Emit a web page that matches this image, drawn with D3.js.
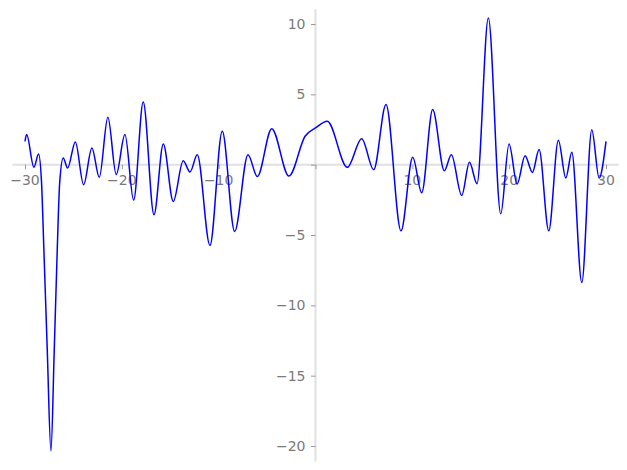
<!DOCTYPE html>
<html><head><meta charset="utf-8">
<script src="https://cdn.jsdelivr.net/npm/d3@7"></script>
<style>body{margin:0;background:#fff}svg{display:block}</style>
</head><body>
<svg id="c" width="627" height="470"></svg>
<script>
const xs = [-30,-29.83,-29.08,-28.6,-28.29,-28.05,-27.7,-27.32,-26.98,-26.67,-26.42,-26.05,-25.6,-24.8,-23.95,-23.09,-22.33,-21.44,-20.58,-19.68,-18.78,-17.79,-16.68,-15.72,-14.69,-13.66,-12.96,-12.21,-10.9,-9.63,-8.35,-6.97,-6.01,-4.52,-2.74,-1.08,0,1.22,3.29,4.77,6.01,7.28,8.83,10.04,10.97,12.1,13.3,14.03,15.1,15.9,16.68,17.85,19.13,19.99,20.82,21.64,22.4,23.09,24.09,25.08,25.85,26.47,27.5,28.53,29.29,30];
const ys = [1.66,2.14,-0.19,0.76,-1.3,-6.05,-13.2,-20.35,-13.2,-6.05,-1.3,0.48,-0.24,1.62,-1.42,1.19,-0.9,3.37,-0.7,2.14,-2.52,4.46,-3.56,1.47,-2.61,0.28,-0.52,0.71,-5.74,2.37,-4.75,0.71,-0.85,2.56,-0.81,2.02,2.61,3.08,-0.19,1.85,-0.36,4.27,-4.7,0.52,-1.99,3.92,-0.43,0.71,-2.18,0.17,-1.35,10.42,-3.49,1.47,-1.38,0.64,-0.55,1.07,-4.7,1.73,-0.95,0.88,-8.38,2.49,-0.95,1.66];
const xMajor = [-30,-20,-10,10,20,30];
const yMajor = [-20,-15,-10,-5,5,10];

const svg = d3.select("#c");
const x = d3.scaleLinear().domain([-30,30]).range([25,606]);
const y = d3.scaleLinear().domain([-20,10]).range([446,24]);
const grey = "#999", lab = "#7a7a7a", axisCol = "#e0e0e0";

// axis lines
svg.append("line").attr("x1",x(-31.3)).attr("x2",x(31.3)).attr("y1",y(0)).attr("y2",y(0))
  .attr("stroke",axisCol).attr("stroke-width",2);
svg.append("line").attr("x1",x(0)).attr("x2",x(0)).attr("y1",y(11.05)).attr("y2",y(-21.1))
  .attr("stroke",axisCol).attr("stroke-width",2);

// x axis ticks
const xMinor = d3.range(-30,31,2).filter(v=>v%10!==0);
const gx = svg.append("g").attr("transform",`translate(0,${y(0)})`);
gx.call(d3.axisBottom(x).tickValues(xMinor).tickSize(2.5).tickFormat(""))
  .call(g=>g.select(".domain").remove());
gx.call(d3.axisBottom(x).tickValues(xMajor.concat([0])).tickSize(4.5).tickFormat(""))
  .call(g=>g.select(".domain").remove());
gx.selectAll("line").attr("stroke",grey);
svg.append("g").selectAll("text").data(xMajor).join("text")
  .attr("x",d=>x(d)).attr("y",y(0)+20).attr("text-anchor","middle")
  .attr("font-family","DejaVu Sans").attr("font-size",14).attr("fill",lab)
  .text(d=>d3.format("")(d));

// y axis ticks
const yMinor = d3.range(-21,12,1).filter(v=>v%5!==0);
const gy = svg.append("g").attr("transform",`translate(${x(0)},0)`);
gy.call(d3.axisLeft(y).tickValues(yMinor).tickSize(2.5).tickFormat(""))
  .call(g=>g.select(".domain").remove());
gy.call(d3.axisLeft(y).tickValues(yMajor.concat([0])).tickSize(4.5).tickFormat(""))
  .call(g=>g.select(".domain").remove());
gy.selectAll("line").attr("stroke",grey);
svg.append("g").selectAll("text").data(yMajor).join("text")
  .attr("x",x(0)-10).attr("y",d=>y(d)).attr("dy","0.36em").attr("text-anchor","end")
  .attr("font-family","DejaVu Sans").attr("font-size",14).attr("fill",lab)
  .text(d=>d3.format("")(d));

// curve
const pts = xs.map((v,i)=>[v,ys[i]]);
svg.append("path").datum(pts)
  .attr("d",d3.line().x(d=>x(d[0])).y(d=>y(d[1])).curve(d3.curveMonotoneX))
  .attr("fill","none").attr("stroke","#0000ff").attr("stroke-width",1.5);
</script>
</body></html>
